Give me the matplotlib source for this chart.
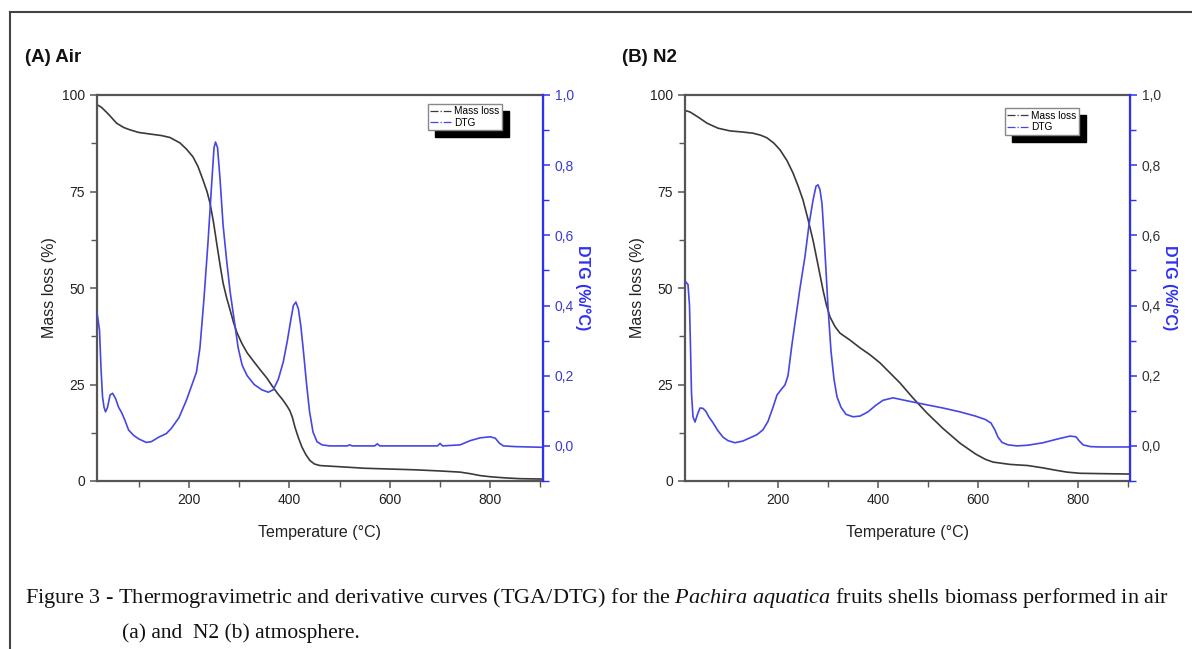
import matplotlib
matplotlib.use("Agg")
import matplotlib.pyplot as plt
from matplotlib.lines import Line2D
from matplotlib.ticker import MultipleLocator, FuncFormatter

plt.rcParams["font.family"] = ["Liberation Sans", "DejaVu Sans"]
plt.rcParams["mathtext.fontset"] = "custom"
plt.rcParams["mathtext.rm"] = "Liberation Serif"
plt.rcParams["mathtext.it"] = "Liberation Serif:italic"

# (A) Air
air_mass_t = [17, 26, 40, 56, 70, 82, 100, 122, 145, 162, 182, 195, 208, 218, 228, 236, 242, 249, 256,
              262, 268, 275, 282, 289, 296, 306, 316, 330, 342, 355, 367, 377, 387, 395, 401, 406, 411,
              418, 425, 433, 441, 450, 461, 500, 550, 600, 650, 700, 740, 760, 780, 800, 830, 860, 905]
air_mass = [97.5, 96.8, 95, 92.7, 91.6, 91, 90.3, 89.9, 89.5, 89, 87.6, 86, 84, 81.5, 78, 75, 72, 67, 61,
            56, 51.3, 47.5, 44.3, 41, 38.3, 35.5, 33.2, 30.8, 28.8, 26.7, 24.4, 22.6, 21, 19.5, 18.2, 16.5, 14,
            11.2, 8.8, 6.8, 5.3, 4.4, 4.0, 3.7, 3.3, 3.1, 2.9, 2.6, 2.3, 1.9, 1.4, 1.1, 0.8, 0.6, 0.5]
air_dtg_t = [17, 22, 25, 28, 31, 34, 38, 43, 48, 54, 60, 66, 72, 80, 90, 100, 115, 125, 140, 155, 165,
             180, 195, 205, 215, 222, 230, 238, 245, 250, 253, 257, 262, 268, 275, 282, 290, 298, 306,
             316, 330, 345, 358, 368, 378, 388, 396, 403, 408, 413, 418, 423, 428, 434, 440, 447, 455,
             465, 480, 515, 520, 525, 570, 575, 580, 695, 700, 705, 740, 760, 780, 800, 810, 818, 826,
             850, 905]
air_dtg = [0.38, 0.33, 0.22, 0.14, 0.11, 0.097, 0.11, 0.145, 0.15, 0.135, 0.11, 0.095, 0.075, 0.045,
           0.03, 0.02, 0.01, 0.012, 0.025, 0.035, 0.05, 0.08, 0.13, 0.17, 0.21, 0.28, 0.42, 0.58, 0.74,
           0.85, 0.866, 0.85, 0.76, 0.63, 0.53, 0.44, 0.36, 0.28, 0.23, 0.20, 0.175, 0.16, 0.153, 0.16,
           0.19, 0.24, 0.30, 0.36, 0.40, 0.41, 0.39, 0.34, 0.27, 0.18, 0.10, 0.04, 0.012, 0.003, 0.0,
           0.0, 0.003, 0.0, 0.0, 0.006, 0.0, 0.0, 0.007, 0.0, 0.003, 0.015, 0.023, 0.026, 0.022, 0.008,
           0.0, -0.002, -0.004]

# (B) N2
n2_mass_t = [14, 24, 40, 58, 80, 104, 130, 150, 165, 178, 192, 204, 218, 230, 240, 250, 260, 270, 280,
             290, 297, 304, 314, 324, 344, 364, 384, 404, 424, 444, 470, 498, 530, 564, 595, 615, 630,
             664, 700, 730, 755, 778, 804, 850, 904]
n2_mass = [96, 95.6, 94.3, 92.7, 91.4, 90.7, 90.4, 90.1, 89.6, 88.9, 87.5, 85.8, 83, 79.8, 76.5, 72.8,
           67.8, 62.4, 56, 49.5, 45.5, 42.5, 40, 38.3, 36.5, 34.5, 32.7, 30.6, 28, 25.4, 21.5, 17.6, 13.6,
           9.8, 7, 5.6, 4.9, 4.3, 4.0, 3.4, 2.8, 2.3, 2.0, 1.9, 1.8]
n2_dtg_t = [14, 20, 23, 25, 27, 30, 34, 39, 44, 50, 56, 62, 70, 80, 90, 100, 114, 130, 144, 158, 170,
            180, 190, 198, 206, 214, 220, 228, 234, 244, 254, 262, 270, 276, 280, 284, 288, 292, 296,
            300, 306, 312, 318, 326, 336, 350, 364, 380, 395, 410, 430, 460, 498, 530, 564, 595, 615,
            626, 634, 640, 648, 660, 678, 700, 730, 760, 784, 796, 802, 810, 825, 844, 904]
n2_dtg = [0.47, 0.46, 0.40, 0.28, 0.15, 0.083, 0.068, 0.09, 0.108, 0.107, 0.098, 0.082, 0.066, 0.043,
          0.025, 0.015, 0.009, 0.014, 0.023, 0.032, 0.046, 0.07, 0.11, 0.145, 0.16, 0.174, 0.2, 0.29,
          0.35, 0.45, 0.54, 0.63, 0.70, 0.74, 0.744, 0.73, 0.69, 0.60, 0.50, 0.396, 0.27, 0.19, 0.14,
          0.11, 0.09, 0.083, 0.085, 0.097, 0.115, 0.13, 0.137, 0.128, 0.117, 0.108, 0.097, 0.085, 0.075,
          0.065, 0.045, 0.025, 0.01, 0.003, 0.0, 0.002, 0.009, 0.02, 0.028, 0.026, 0.015, 0.003, -0.002,
          -0.003, -0.003]

BLACK = "#3a3a3a"
BLUE = "#4646e6"
SPINE_BLUE = "#3030f0"
GRAY = "#555555"


def comma(v, _):
    return f"{v:.1f}".replace(".", ",")


def panel(rect, title, title_x, mass_t, mass, dtg_t, dtg, xlim, leg_anchor, right_label_color):
    ax = fig.add_axes(rect)
    ax.plot(mass_t, mass, color=BLACK, lw=1.2)
    ax.set_xlim(*xlim)
    ax.set_ylim(0, 100)
    ax.xaxis.set_major_locator(MultipleLocator(200))
    ax.xaxis.set_minor_locator(MultipleLocator(100))
    ax.yaxis.set_major_locator(MultipleLocator(25))
    ax.yaxis.set_minor_locator(MultipleLocator(12.5))
    ax.tick_params(which="both", direction="out", colors=GRAY, labelcolor="#222222", labelsize=10)
    ax.tick_params(which="major", length=5, width=1.1)
    ax.tick_params(which="minor", length=4, width=1.0)
    for s in ["left", "bottom", "top"]:
        ax.spines[s].set_color(GRAY)
        ax.spines[s].set_linewidth(1.6)
    ax.set_xlabel("Temperature (°C)", fontsize=11.5, color="#222222", labelpad=13)
    ax.set_ylabel("Mass loss (%)", fontsize=11.5, color="#222222", labelpad=4)

    ax2 = ax.twinx()
    ax2.plot(dtg_t, dtg, color=BLUE, lw=1.2)
    ax2.set_ylim(-0.1, 1.0)
    ax2.yaxis.set_major_locator(MultipleLocator(0.2))
    ax2.yaxis.set_minor_locator(MultipleLocator(0.1))
    ax2.yaxis.set_major_formatter(FuncFormatter(comma))
    ax2.tick_params(which="both", direction="out", colors=SPINE_BLUE, labelcolor=right_label_color,
                    labelsize=10)
    ax2.tick_params(which="major", length=5, width=1.1)
    ax2.tick_params(which="minor", length=4, width=1.0)
    ax2.spines["right"].set_color(SPINE_BLUE)
    ax2.spines["right"].set_linewidth(1.6)
    for s in ["left", "bottom", "top"]:
        ax2.spines[s].set_visible(False)
    ax2.set_ylabel("DTG (%/°C)", fontsize=11.5, color=SPINE_BLUE, fontweight="bold",
                   rotation=270, labelpad=12)

    handles = [Line2D([], [], color=BLACK, lw=0.9, ls="-."), Line2D([], [], color=BLUE, lw=0.9, ls="-.")]
    ax2.legend(handles, ["Mass loss", "DTG"], loc="upper left", bbox_to_anchor=leg_anchor,
               fontsize=7.3, frameon=True, fancybox=False, edgecolor="#888888", framealpha=1,
               shadow={"color": "black", "alpha": 1, "ox": 5, "oy": -5}, handlelength=2.0,
               handletextpad=0.3, borderpad=0.25, labelspacing=0.15, borderaxespad=0)
    fig.text(title_x, 1 - 57 / 649, title, fontsize=13.5, fontweight="bold", color="#111111",
             va="center", ha="left")
    return ax


fig = plt.figure(figsize=(11.92, 6.49), dpi=100)

panel([97 / 1192, 1 - 481 / 649, 446 / 1192, 386 / 649], "(A) Air", 25 / 1192,
      air_mass_t, air_mass, air_dtg_t, air_dtg, (17, 905), (0.742, 0.977), "#3a3ad0")
panel([685 / 1192, 1 - 481 / 649, 445 / 1192, 386 / 649], "(B) N2", 622 / 1192,
      n2_mass_t, n2_mass, n2_dtg_t, n2_dtg, (14, 904), (0.719, 0.966), "#333333")

# page border
fig.add_artist(Line2D([10 / 1192, 1.0], [1 - 12 / 649, 1 - 12 / 649], color="#444444", lw=1.5))
fig.add_artist(Line2D([10 / 1192, 10 / 1192], [0, 1 - 12 / 649], color="#444444", lw=1.5))

serif = ["Liberation Serif", "DejaVu Serif"]
fig.text(25 / 1192, 1 - 603 / 649,
         "Figure 3 - Thermogravimetric and derivative curves (TGA/DTG) for the $\\mathit{Pachira\\ aquatica}$"
         " fruits shells biomass performed in air",
         family=serif, fontsize=16.0, color="#111111", va="baseline")
fig.text(122 / 1192, 1 - 638 / 649, "(a) and  N2 (b) atmosphere.", family=serif, fontsize=15.5,
         color="#111111", va="baseline")

fig.savefig("out.png", dpi=100)
